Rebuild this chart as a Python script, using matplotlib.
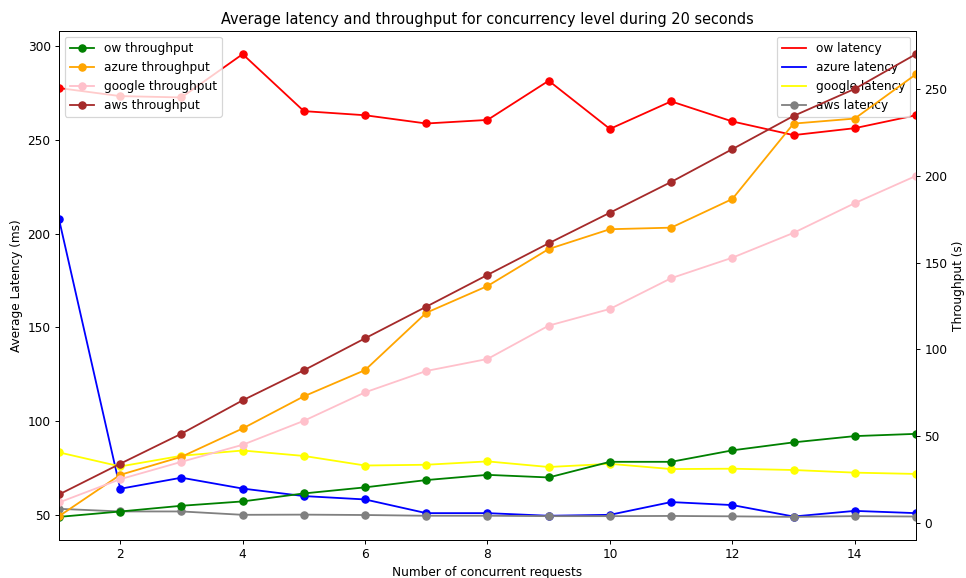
"""Latency and throughput per concurrency level for four providers."""
import matplotlib

matplotlib.use("Agg")
import matplotlib.pyplot as plt

concurrency = list(range(1, 16))

ow_latency = [277.6, 273.3, 272.6, 295.7, 265.3, 263.1, 258.7, 260.6,
              281.5, 255.8, 270.5, 259.8, 252.5, 256.2, 263.1]
azure_latency = [207.6, 63.9, 69.8, 64.0, 60.0, 58.2, 50.9, 50.9,
                 49.5, 50.0, 56.8, 55.2, 49.1, 52.1, 50.9]
google_latency = [83.3, 75.8, 81.5, 84.3, 81.4, 76.3, 76.7, 78.5,
                  75.5, 77.2, 74.4, 74.6, 73.9, 72.5, 71.8]
aws_latency = [53.2, 51.8, 51.8, 50.0, 50.1, 49.9, 49.5, 49.5,
               49.3, 49.3, 49.4, 49.2, 48.9, 49.3, 49.1]

ow_throughput = [3.6, 6.7, 10.0, 12.5, 17.1, 20.6, 24.8, 27.8,
                 26.3, 35.3, 35.3, 41.9, 46.5, 50.1, 51.4]
azure_throughput = [4.0, 27.8, 38.2, 54.5, 73.0, 88.1, 121.1, 136.5,
                    157.8, 169.2, 170.1, 186.6, 230.0, 232.9, 258.4]
google_throughput = [11.9, 25.3, 35.3, 45.1, 58.9, 75.3, 87.6, 94.5,
                     113.7, 123.3, 141.0, 152.8, 167.1, 184.2, 199.9]
aws_throughput = [16.5, 34.2, 51.5, 70.7, 88.0, 106.4, 124.6, 142.9,
                  161.1, 178.7, 196.4, 215.3, 234.4, 250.0, 270.0]


def main():
    """Do Things."""
    dpi = 87
    fig, ax1 = plt.subplots(figsize=(966 / dpi, 578 / dpi), dpi=dpi)
    fig.subplots_adjust(left=0.0611, right=0.9482, bottom=0.0657, top=0.9464)
    ax2 = ax1.twinx()

    # latency lines, legend shows plain lines except aws
    for vals, color, label in [
        (ow_latency, "red", "ow latency"),
        (azure_latency, "blue", "azure latency"),
        (google_latency, "yellow", "google latency"),
    ]:
        ax1.plot(concurrency, vals, color=color, label=label)
        ax1.plot(concurrency, vals, "o", color=color)
    ax1.plot(concurrency, aws_latency, "o-", color="grey", label="aws latency")

    for vals, color, label in [
        (ow_throughput, "green", "ow throughput"),
        (azure_throughput, "orange", "azure throughput"),
        (google_throughput, "pink", "google throughput"),
        (aws_throughput, "brown", "aws throughput"),
    ]:
        ax2.plot(concurrency, vals, "o-", color=color, label=label)

    ax1.set_xlim(1, 15)
    ax1.set_xticks(range(2, 15, 2))
    ax1.set_xlabel("Number of concurrent requests")
    ax1.set_ylabel("Average Latency (ms)")
    ax2.set_ylabel("Throughput (s)")
    ax1.set_title(
        "Average latency and throughput for concurrency level during 20 seconds"
    )
    ax1.legend(loc="upper right")
    ax2.legend(loc="upper left")
    fig.savefig("out.png", dpi=dpi)


if __name__ == "__main__":
    main()
